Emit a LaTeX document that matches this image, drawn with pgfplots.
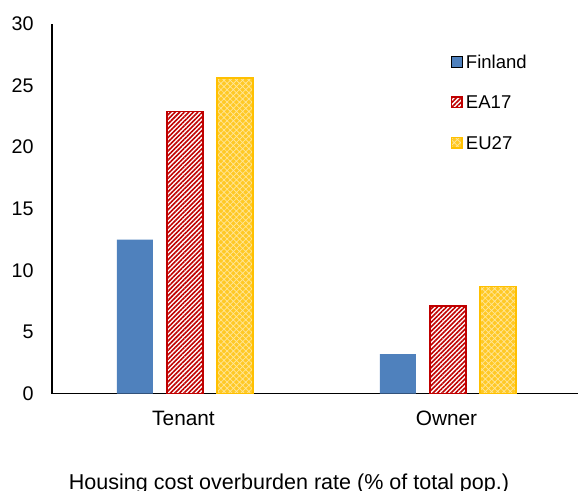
\documentclass[border=0pt]{standalone}
\usepackage{fontspec}
\setmainfont{Liberation Sans}
\usepackage{pgfplots}
\pgfplotsset{compat=1.18}
\usetikzlibrary{patterns.meta}
\definecolor{fin}{HTML}{4F81BD}
\definecolor{ea}{HTML}{C00000}
\definecolor{eu}{HTML}{FFC000}
\definecolor{eulight}{HTML}{FFE699}

\begin{document}
\begin{tikzpicture}
\useasboundingbox (0,0) rectangle (289.5bp,245.5bp);
\begin{axis}[
    at={(26bp,48.75bp)}, anchor=south west,
    width=263bp, height=184.75bp, scale only axis,
    ybar=7bp, bar width=18bp,
    xmin=-0.5, xmax=1.5, ymin=0, ymax=30,
    enlargelimits=false,
    xtick={0,1}, xticklabels={Tenant,Owner},
    ytick={0,5,...,30},
    axis lines*=left,
    axis line style={line width=0.75bp, black},
    major tick length=0pt,
    /pgf/number format/assume math mode=true,
    yticklabel style={font=\fontsize{9.9}{12}\selectfont, anchor=east, inner sep=0pt, xshift=-9bp},
    xticklabel style={font=\fontsize{10.45}{12}\selectfont, anchor=base, inner sep=0pt, yshift=-16bp},
    xlabel={Housing cost overburden rate (\% of total pop.)},
    xlabel style={font=\fontsize{10.8}{12}\selectfont, at={(axis description cs:0.5,0)}, anchor=base, inner sep=0pt, yshift=-47.75bp, xshift=-13bp},
    every axis plot post/.append style={
        legend image code/.code={\draw[##1] (0bp,-2.65bp) rectangle (5.3bp,2.65bp);}
    },
    legend style={
        at={(rel axis cs:0.757,0.917)}, anchor=north west,
        draw=none, fill=none, inner sep=0pt,
        font=\fontsize{9.3}{11}\selectfont,
        row sep=13.55bp, column sep=1.6bp,
        nodes={inner sep=0pt, text height=6.7bp, text depth=0pt},
        cells={anchor=west},
    },
]
\addplot[fill=fin, draw=none] coordinates {(0.005,12.5) (1.005,3.2)};
\addlegendentry{Finland}
\addplot[fill=white, draw=ea, line width=0.8bp,
    postaction={pattern={Lines[angle=45, distance=1.6bp, line width=0.8bp]}, pattern color=ea}]
    coordinates {(0.005,22.9) (1.005,7.1)};
\addlegendentry{EA17}
\addplot[fill=eu!85!white, draw=eu, line width=0.75bp,
    postaction={pattern={Hatch[angle=45, distance=2.2bp, line width=0.35bp]}, pattern color=eulight}]
    coordinates {(0.005,25.6) (1.005,8.7)};
\addlegendentry{EU27}
\end{axis}
\end{tikzpicture}
\end{document}
